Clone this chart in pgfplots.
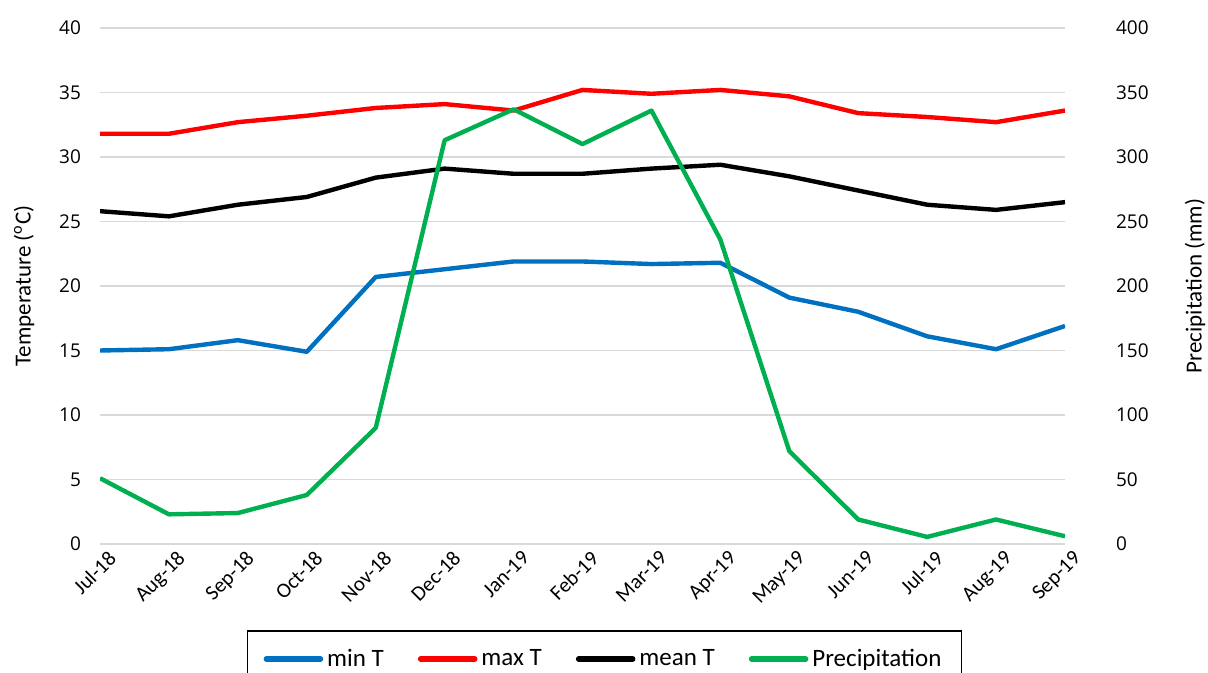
\documentclass[border=0pt]{standalone}
\usepackage{fontspec}
\setmainfont{Carlito}
\newfontfamily\tickfont{Open Sans}
\usepackage{pgfplots}
\usepackage{pgfplotstable}
\pgfplotsset{compat=1.18}
\definecolor{cblue}{RGB}{0,112,192}
\definecolor{cred}{RGB}{255,0,0}
\definecolor{cgreen}{RGB}{0,176,80}
\pgfplotstableread{
x minT maxT meanT prec
0 15.0 31.8 25.8 51
1 15.1 31.8 25.4 23
2 15.8 32.7 26.3 24
3 14.9 33.2 26.9 38
4 20.7 33.8 28.4 90
5 21.3 34.1 29.1 313
6 21.9 33.6 28.7 337
7 21.9 35.2 28.7 310
8 21.7 34.9 29.1 336
9 21.8 35.2 29.4 236
10 19.1 34.7 28.5 72
11 18.0 33.4 27.4 19
12 16.1 33.1 26.3 5.5
13 15.1 32.7 25.9 19
14 16.9 33.6 26.5 6
}\data
\begin{document}
\begin{tikzpicture}
\useasboundingbox (-50pt,-64.5pt) rectangle (554pt,272pt);
\pgfplotsset{
  common/.style={
    at={(0,0)}, anchor=south west, scale only axis,
    width=482.5pt, height=258pt,
    xmin=0, xmax=14,
    axis line style={draw=none}, tick style={draw=none},
    /pgf/number format/assume math mode=true,
    label style={font=\fontsize{11.5}{13}\selectfont},
  }
}
\begin{axis}[common,
  ymin=0, ymax=40, ytick={0,5,...,40},
  xtick={0,...,14},
  xticklabels={Jul-18,Aug-18,Sep-18,Oct-18,Nov-18,Dec-18,Jan-19,Feb-19,Mar-19,Apr-19,May-19,Jun-19,Jul-19,Aug-19,Sep-19},
  x tick label style={rotate=45, anchor=north east, font=\fontsize{10.5}{12}\selectfont, xshift=4pt, yshift=-1pt},
  y tick label style={font=\tickfont\fontsize{9.5}{11}\selectfont, xshift=-6pt},
  ymajorgrids, grid style={black!15, line width=0.9pt},
  ylabel={Temperature (\textsuperscript{o}C)},
  ylabel style={at={(axis description cs:-0.0788,0.5)}, anchor=center},
]
\addplot[cblue, line width=2.2pt, line join=round] table[x=x,y=minT]{\data};
\addplot[cred, line width=2.2pt, line join=round] table[x=x,y=maxT]{\data};
\addplot[black, line width=2.2pt, line join=round] table[x=x,y=meanT]{\data};
\end{axis}
\begin{axis}[common,
  ymin=0, ymax=400, ytick={0,50,...,400},
  axis y line*=right, hide x axis,
  y tick label style={font=\tickfont\fontsize{9.5}{11}\selectfont, xshift=22pt, anchor=west},
  ylabel={Precipitation (mm)},
  ylabel style={at={(axis description cs:1.1347,0.5)}, anchor=center, rotate=0},
  legend style={at={(axis description cs:0.5228,-0.1667)}, anchor=north,
    legend columns=4, draw=black, line width=0.8pt,
    font=\fontsize{12.5}{14}\selectfont,
    /tikz/every even column/.append style={column sep=15pt},
    inner ysep=7pt, inner xsep=8pt},
  legend cell align=left,
  legend image code/.code={\draw[line width=2.8pt, line cap=round] (0pt,0pt) -- (27pt,0pt);},
]
\addlegendimage{cblue}
\addlegendentry{min T}
\addlegendimage{cred}
\addlegendentry{max T}
\addlegendimage{black}
\addlegendentry{mean T}
\addplot[cgreen, line width=2.2pt, line join=round] table[x=x,y=prec]{\data};
\addlegendentry{Precipitation}
\end{axis}
\end{tikzpicture}
\end{document}
